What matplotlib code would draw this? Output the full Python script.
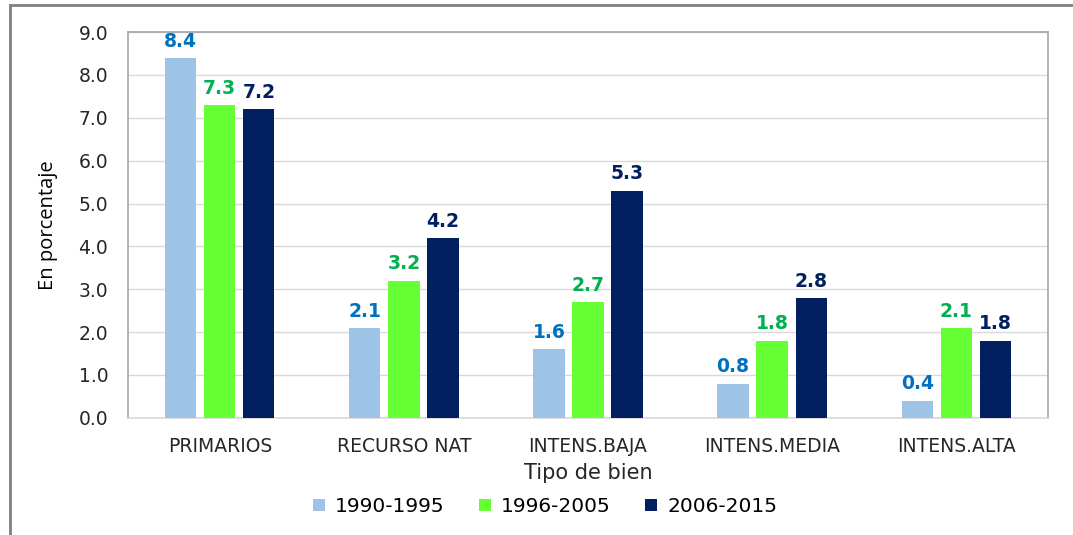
import matplotlib
matplotlib.use("Agg")
import matplotlib.pyplot as plt
from matplotlib.lines import Line2D
from matplotlib.patches import Patch
import numpy as np

categories = ["PRIMARIOS", "RECURSO NAT", "INTENS.BAJA", "INTENS.MEDIA", "INTENS.ALTA"]
series_names = ["1990-1995", "1996-2005", "2006-2015"]
v_1990_1995 = [8.4, 2.1, 1.6, 0.8, 0.4]
v_1996_2005 = [7.3, 3.2, 2.7, 1.8, 2.1]
v_2006_2015 = [7.2, 4.2, 5.3, 2.8, 1.8]
yticks = [0.0, 1.0, 2.0, 3.0, 4.0, 5.0, 6.0, 7.0, 8.0, 9.0]

bar_colors = ["#9DC3E6", "#66FF33", "#002060"]
label_colors = ["#0070C0", "#00B050", "#002060"]

fig = plt.figure(figsize=(10.73, 5.35), dpi=100)
ax = fig.add_axes([0.119, 0.219, 0.858, 0.721])

x = np.arange(len(categories))
step = 0.212
width = 0.17
series = [v_1990_1995, v_1996_2005, v_2006_2015]
for i, vals in enumerate(series):
    pos = x + (i - 1) * step
    ax.bar(pos, vals, width=width, color=bar_colors[i], zorder=3, label=series_names[i])
    for p, v in zip(pos, vals):
        ax.text(p, v + 0.17, f"{v:.1f}", ha="center", va="bottom", color=label_colors[i],
                fontsize=13.5, fontweight="bold", zorder=4)

ax.set_xlim(-0.5, len(categories) - 0.5)
ax.set_ylim(0, 9.0)
ax.set_yticks(yticks)
ax.set_yticklabels([f"{t:.1f}" for t in yticks], fontsize=13.5, color="#262626")
ax.set_xticks(x)
ax.set_xticklabels(categories, fontsize=13.5, color="#262626")
ax.tick_params(axis="both", length=0)
ax.tick_params(axis="y", pad=14)
ax.tick_params(axis="x", pad=14)
ax.grid(axis="y", color="#D9D9D9", linewidth=1, zorder=0)
for s in ["left", "top", "right"]:
    ax.spines[s].set_color("#A6A6A6")
    ax.spines[s].set_linewidth(1.2)
ax.spines["bottom"].set_color("#D9D9D9")
ax.spines["bottom"].set_linewidth(1.2)

ax.set_xlabel("Tipo de bien", fontsize=15, color="#262626", labelpad=5)
fig.text(0.045, 0.58, "En porcentaje", rotation=90, ha="center", va="center",
         fontsize=14.5, family="Open Sans", color="#000000")

handles = [Patch(facecolor=c, edgecolor="none") for c in bar_colors]
fig.legend(handles, series_names, loc="center", bbox_to_anchor=(0.508, 0.053), ncol=3,
           frameon=False, fontsize=14.5, handlelength=0.6, handleheight=0.6,
           handletextpad=0.5, columnspacing=1.7)

# outer frame lines
fig.add_artist(Line2D([0.0095, 1.0], [0.991, 0.991], color="#808080", linewidth=2, transform=fig.transFigure))
fig.add_artist(Line2D([0.0095, 0.0095], [0.0, 0.991], color="#808080", linewidth=2, transform=fig.transFigure))

fig.savefig("out.png", dpi=100)
